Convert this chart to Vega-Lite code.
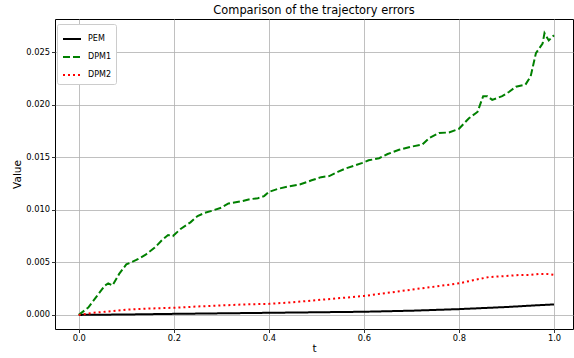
{
  "$schema": "https://vega.github.io/schema/vega-lite/v6.json",
  "width": 518,
  "height": 310,
  "autosize": "none",
  "padding": {"left": 55, "top": 19, "right": 1, "bottom": 29},
  "background": "white",
  "config": {
    "font": "DejaVu Sans",
    "view": {"stroke": "black", "strokeWidth": 1},
    "axis": {
      "domain": false,
      "gridColor": "#b0b0b0",
      "gridWidth": 0.8,
      "tickColor": "black",
      "tickSize": 3.5,
      "tickWidth": 0.8,
      "labelColor": "black",
      "labelFont": "DejaVu Sans",
      "labelFontSize": 8.3,
      "labelPadding": 2,
      "titleFont": "DejaVu Sans",
      "titleFontSize": 10.5,
      "titleFontWeight": "normal",
      "titleColor": "black"
    }
  },
  "title": {
    "text": "Comparison of the trajectory errors",
    "font": "DejaVu Sans",
    "fontSize": 11.4,
    "fontWeight": "normal",
    "color": "black",
    "offset": 3
  },
  "data": {
    "values": [
      {"s": "PEM", "t": 0, "v": 0},
      {"s": "PEM", "t": 0.1, "v": 0.00004},
      {"s": "PEM", "t": 0.2, "v": 0.0001},
      {"s": "PEM", "t": 0.3, "v": 0.00015},
      {"s": "PEM", "t": 0.4, "v": 0.0002},
      {"s": "PEM", "t": 0.5, "v": 0.00025},
      {"s": "PEM", "t": 0.6, "v": 0.0003},
      {"s": "PEM", "t": 0.7, "v": 0.0004},
      {"s": "PEM", "t": 0.8, "v": 0.00055},
      {"s": "PEM", "t": 0.9, "v": 0.00075},
      {"s": "PEM", "t": 0.95, "v": 0.00088},
      {"s": "PEM", "t": 1.0, "v": 0.001},
      {"s": "DPM1", "t": 0, "v": 0},
      {"s": "DPM1", "t": 0.02, "v": 0.0007},
      {"s": "DPM1", "t": 0.04, "v": 0.0019},
      {"s": "DPM1", "t": 0.055, "v": 0.0028},
      {"s": "DPM1", "t": 0.062, "v": 0.003},
      {"s": "DPM1", "t": 0.071, "v": 0.0028},
      {"s": "DPM1", "t": 0.085, "v": 0.0039},
      {"s": "DPM1", "t": 0.1, "v": 0.0048},
      {"s": "DPM1", "t": 0.12, "v": 0.0052},
      {"s": "DPM1", "t": 0.14, "v": 0.0057},
      {"s": "DPM1", "t": 0.16, "v": 0.0064},
      {"s": "DPM1", "t": 0.175, "v": 0.0071},
      {"s": "DPM1", "t": 0.188, "v": 0.0076},
      {"s": "DPM1", "t": 0.198, "v": 0.0075},
      {"s": "DPM1", "t": 0.215, "v": 0.0082},
      {"s": "DPM1", "t": 0.235, "v": 0.0088},
      {"s": "DPM1", "t": 0.25, "v": 0.0094},
      {"s": "DPM1", "t": 0.265, "v": 0.0097},
      {"s": "DPM1", "t": 0.28, "v": 0.0099},
      {"s": "DPM1", "t": 0.3, "v": 0.0102},
      {"s": "DPM1", "t": 0.315, "v": 0.0106},
      {"s": "DPM1", "t": 0.342, "v": 0.0108},
      {"s": "DPM1", "t": 0.36, "v": 0.011},
      {"s": "DPM1", "t": 0.377, "v": 0.0111},
      {"s": "DPM1", "t": 0.39, "v": 0.0113},
      {"s": "DPM1", "t": 0.4, "v": 0.0117},
      {"s": "DPM1", "t": 0.42, "v": 0.012},
      {"s": "DPM1", "t": 0.44, "v": 0.0122},
      {"s": "DPM1", "t": 0.465, "v": 0.0124},
      {"s": "DPM1", "t": 0.49, "v": 0.0128},
      {"s": "DPM1", "t": 0.51, "v": 0.0131},
      {"s": "DPM1", "t": 0.527, "v": 0.0132},
      {"s": "DPM1", "t": 0.545, "v": 0.0136},
      {"s": "DPM1", "t": 0.56, "v": 0.0139},
      {"s": "DPM1", "t": 0.58, "v": 0.0142},
      {"s": "DPM1", "t": 0.597, "v": 0.01446},
      {"s": "DPM1", "t": 0.61, "v": 0.0147},
      {"s": "DPM1", "t": 0.632, "v": 0.0149},
      {"s": "DPM1", "t": 0.65, "v": 0.0153},
      {"s": "DPM1", "t": 0.674, "v": 0.0157},
      {"s": "DPM1", "t": 0.7, "v": 0.016},
      {"s": "DPM1", "t": 0.723, "v": 0.0162},
      {"s": "DPM1", "t": 0.737, "v": 0.0168},
      {"s": "DPM1", "t": 0.758, "v": 0.0173},
      {"s": "DPM1", "t": 0.779, "v": 0.01735},
      {"s": "DPM1", "t": 0.8, "v": 0.0177},
      {"s": "DPM1", "t": 0.821, "v": 0.0187},
      {"s": "DPM1", "t": 0.839, "v": 0.0193},
      {"s": "DPM1", "t": 0.851, "v": 0.0208},
      {"s": "DPM1", "t": 0.86, "v": 0.0208},
      {"s": "DPM1", "t": 0.87, "v": 0.02045},
      {"s": "DPM1", "t": 0.891, "v": 0.0208},
      {"s": "DPM1", "t": 0.905, "v": 0.0212},
      {"s": "DPM1", "t": 0.92, "v": 0.0217},
      {"s": "DPM1", "t": 0.94, "v": 0.0219},
      {"s": "DPM1", "t": 0.951, "v": 0.0227},
      {"s": "DPM1", "t": 0.962, "v": 0.0249},
      {"s": "DPM1", "t": 0.976, "v": 0.0258},
      {"s": "DPM1", "t": 0.98, "v": 0.0268},
      {"s": "DPM1", "t": 0.989, "v": 0.0261},
      {"s": "DPM1", "t": 1.0, "v": 0.0266},
      {"s": "DPM2", "t": 0, "v": 0},
      {"s": "DPM2", "t": 0.03, "v": 0.0002},
      {"s": "DPM2", "t": 0.055, "v": 0.0003},
      {"s": "DPM2", "t": 0.1, "v": 0.0005},
      {"s": "DPM2", "t": 0.146, "v": 0.0006},
      {"s": "DPM2", "t": 0.2, "v": 0.00068},
      {"s": "DPM2", "t": 0.25, "v": 0.0008},
      {"s": "DPM2", "t": 0.3, "v": 0.0009},
      {"s": "DPM2", "t": 0.35, "v": 0.001},
      {"s": "DPM2", "t": 0.4, "v": 0.00105},
      {"s": "DPM2", "t": 0.45, "v": 0.0012},
      {"s": "DPM2", "t": 0.5, "v": 0.0014},
      {"s": "DPM2", "t": 0.55, "v": 0.0016},
      {"s": "DPM2", "t": 0.6, "v": 0.0018},
      {"s": "DPM2", "t": 0.65, "v": 0.0021},
      {"s": "DPM2", "t": 0.7, "v": 0.0024},
      {"s": "DPM2", "t": 0.75, "v": 0.0027},
      {"s": "DPM2", "t": 0.8, "v": 0.003},
      {"s": "DPM2", "t": 0.83, "v": 0.0033},
      {"s": "DPM2", "t": 0.863, "v": 0.0036},
      {"s": "DPM2", "t": 0.9, "v": 0.0037},
      {"s": "DPM2", "t": 0.926, "v": 0.0038},
      {"s": "DPM2", "t": 0.95, "v": 0.0038},
      {"s": "DPM2", "t": 0.968, "v": 0.0039},
      {"s": "DPM2", "t": 0.985, "v": 0.0039},
      {"s": "DPM2", "t": 1.0, "v": 0.0038}
    ]
  },
  "mark": {"type": "line", "strokeWidth": 2},
  "encoding": {
    "x": {
      "field": "t",
      "type": "quantitative",
      "scale": {"domain": [-0.05, 1.04], "nice": false, "zero": false},
      "axis": {"values": [0, 0.2, 0.4, 0.6, 0.8, 1.0], "format": ".1f", "title": "t", "titlePadding": 2, "labelPadding": 1}
    },
    "y": {
      "field": "v",
      "type": "quantitative",
      "scale": {"domain": [-0.00134, 0.02814], "nice": false, "zero": false},
      "axis": {"values": [0, 0.005, 0.01, 0.015, 0.02, 0.025], "format": ".3f", "title": "Value", "titlePadding": 3}
    },
    "color": {
      "field": "s",
      "type": "nominal",
      "scale": {"domain": ["PEM", "DPM1", "DPM2"], "range": ["black", "#008000", "#ff0000"]},
      "legend": {
        "title": null,
        "orient": "none",
        "legendX": 2,
        "legendY": 5,
        "fillColor": "white",
        "strokeColor": "#cccccc",
        "cornerRadius": 2,
        "padding": 5,
        "symbolType": "stroke",
        "symbolSize": 324,
        "symbolStrokeWidth": 2,
        "labelOffset": 6,
        "labelFont": "DejaVu Sans",
        "labelFontSize": 8,
        "labelColor": "black",
        "rowPadding": 4
      }
    },
    "strokeDash": {
      "field": "s",
      "type": "nominal",
      "scale": {"domain": ["PEM", "DPM1", "DPM2"], "range": [[1, 0], [7, 3], [2, 3]]},
      "legend": null
    }
  }
}
